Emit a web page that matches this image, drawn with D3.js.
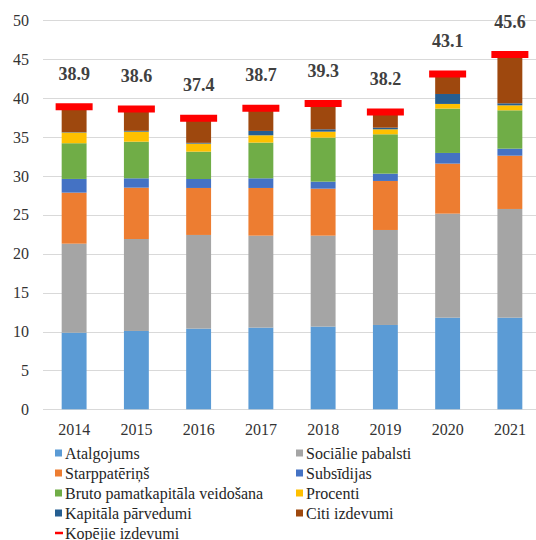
<!DOCTYPE html>
<html>
<head>
<meta charset="utf-8">
<script src="https://cdn.jsdelivr.net/npm/d3@7"></script>
<style>
  body { margin: 0; background: #fff; }
  svg { display: block; font-family: "Liberation Serif", "Times New Roman", serif; }
</style>
</head>
<body>
<svg id="chart" width="536" height="540"></svg>
<script>
// data
var years = ["2014", "2015", "2016", "2017", "2018", "2019", "2020", "2021"];
var atalgojums = [9.85, 10.07, 10.37, 10.5, 10.63, 10.84, 11.78, 11.78];
var socialie = [11.44, 11.82, 12.04, 11.82, 11.69, 12.21, 13.37, 13.97];
var starppateri = [6.56, 6.6, 6.04, 6.13, 6.04, 6.3, 6.43, 6.85];
var subsidijas = [1.76, 1.2, 1.15, 1.24, 0.9, 0.94, 1.37, 0.9];
var bruto = [4.59, 4.71, 3.52, 4.59, 5.66, 5.06, 5.7, 4.93];
var procenti = [1.37, 1.29, 1.03, 0.94, 0.77, 0.64, 0.6, 0.64];
var kapitala = [0.05, 0.1, 0.1, 0.56, 0.3, 0.21, 1.28, 0.26];
var citi = [3.28, 2.81, 3.15, 2.92, 3.31, 2.0, 2.57, 6.27];
var kopejie = [38.9, 38.6, 37.4, 38.7, 39.3, 38.2, 43.1, 45.6];
var yTicks = [0, 5, 10, 15, 20, 25, 30, 35, 40, 45, 50];

var series = [
    { key: "Atalgojums", values: atalgojums, color: "#5B9BD5" },
    { key: "Sociālie pabalsti", values: socialie, color: "#A5A5A5" },
    { key: "Starppatēriņš", values: starppateri, color: "#ED7D31" },
    { key: "Subsīdijas", values: subsidijas, color: "#4472C4" },
    { key: "Bruto pamatkapitāla veidošana", values: bruto, color: "#70AD47" },
    { key: "Procenti", values: procenti, color: "#FFC000" },
    { key: "Kapitāla pārvedumi", values: kapitala, color: "#255E91" },
    { key: "Citi izdevumi", values: citi, color: "#9E480E" }
];

var rows = years.map(function(y, i) {
    var r = { year: y };
    series.forEach(function(s) { r[s.key] = s.values[i]; });
    return r;
});

var svg = d3.select("#chart");

var x = d3.scaleBand().domain(years).range([43, 541]).paddingInner(0.6).paddingOuter(0.3);
var y = d3.scaleLinear().domain([0, 50]).range([409.3, 20.3]);

// gridlines
svg.append("g").selectAll("line").data(yTicks).enter()
    .append("line")
    .attr("x1", 43).attr("x2", 536)
    .attr("y1", function(d) { return Math.round(y(d)) + 0.5; })
    .attr("y2", function(d) { return Math.round(y(d)) + 0.5; })
    .attr("stroke", "#D9D9D9")
    .attr("stroke-width", 1);

// y tick labels
svg.append("g").selectAll("text").data(yTicks).enter()
    .append("text")
    .attr("x", 29)
    .attr("y", function(d) { return y(d); })
    .attr("dy", "0.35em")
    .attr("text-anchor", "end")
    .attr("font-size", 16)
    .attr("fill", "#333")
    .text(function(d) { return d; });

// stacked bars
var stack = d3.stack().keys(series.map(function(s) { return s.key; }));
var stacked = stack(rows);

svg.append("g").selectAll("g").data(stacked).enter()
    .append("g")
    .attr("fill", function(d, i) { return series[i].color; })
    .selectAll("rect").data(function(d) { return d; }).enter()
    .append("rect")
    .attr("x", function(d) { return x(d.data.year); })
    .attr("width", x.bandwidth())
    .attr("y", function(d) { return y(d[1]); })
    .attr("height", function(d) { return y(d[0]) - y(d[1]); });

// total markers
svg.append("g").selectAll("line").data(kopejie).enter()
    .append("line")
    .attr("x1", function(d, i) { return x(years[i]) + x.bandwidth() / 2 - 18.5; })
    .attr("x2", function(d, i) { return x(years[i]) + x.bandwidth() / 2 + 18.5; })
    .attr("y1", function(d) { return y(d); })
    .attr("y2", function(d) { return y(d); })
    .attr("stroke", "#FF0000")
    .attr("stroke-width", 7);

// total labels
svg.append("g").selectAll("text").data(kopejie).enter()
    .append("text")
    .attr("x", function(d, i) { return x(years[i]) + x.bandwidth() / 2; })
    .attr("y", function(d) { return y(d) - 27; })
    .attr("text-anchor", "middle")
    .attr("font-size", 18)
    .attr("font-weight", "bold")
    .attr("fill", "#404040")
    .text(function(d) { return d.toFixed(1); });

// year labels
svg.append("g").selectAll("text").data(years).enter()
    .append("text")
    .attr("x", function(d) { return x(d) + x.bandwidth() / 2; })
    .attr("y", 435)
    .attr("text-anchor", "middle")
    .attr("font-size", 16)
    .attr("fill", "#333")
    .text(function(d) { return d; });

// legend
var legendItems = series.map(function(s) { return { key: s.key, color: s.color, type: "box" }; });
legendItems.push({ key: "Kopējie izdevumi", color: "#FF0000", type: "line" });

var legend = svg.append("g").selectAll("g").data(legendItems).enter()
    .append("g")
    .attr("transform", function(d, i) {
        var col = i % 2, row = Math.floor(i / 2);
        return "translate(" + (col ? 296 : 55) + "," + (453 + row * 20) + ")";
    });

legend.filter(function(d) { return d.type == "box"; })
    .append("rect")
    .attr("x", 0).attr("y", -3.5)
    .attr("width", 7).attr("height", 7)
    .attr("fill", function(d) { return d.color; });

legend.filter(function(d) { return d.type == "line"; })
    .append("line")
    .attr("x1", 0).attr("x2", 8)
    .attr("y1", 0).attr("y2", 0)
    .attr("stroke", function(d) { return d.color; })
    .attr("stroke-width", 2.5);

legend.append("text")
    .attr("x", 10)
    .attr("y", 0)
    .attr("dy", "0.35em")
    .attr("font-size", 16)
    .attr("fill", "#262626")
    .text(function(d) { return d.key; });
</script>
</body>
</html>
